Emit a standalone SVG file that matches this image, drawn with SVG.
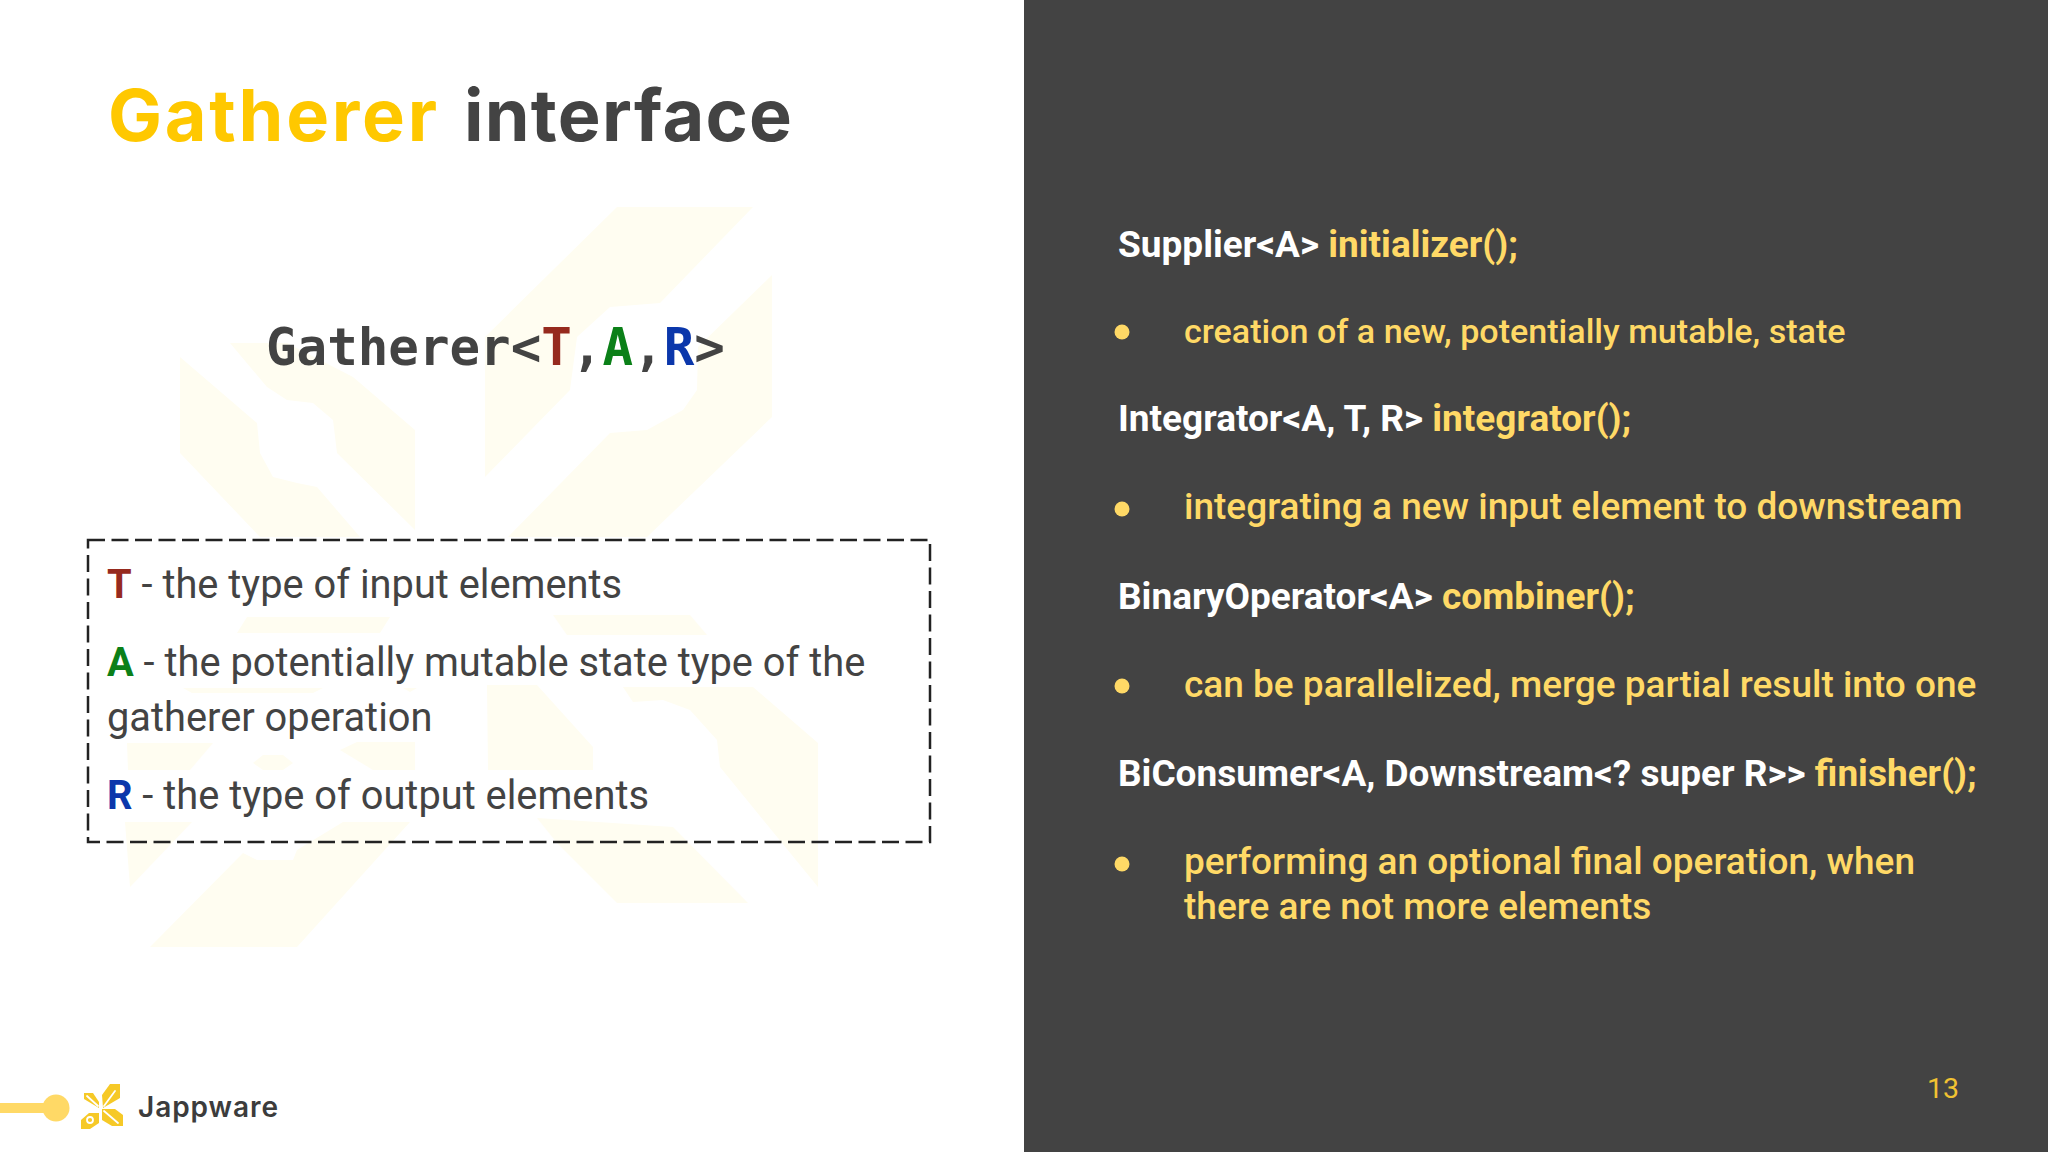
<svg xmlns="http://www.w3.org/2000/svg" width="2048" height="1152" viewBox="0 0 2048 1152">
<style>
.r{font-family:Roboto,"Liberation Sans",sans-serif}
.s{font-size:37px;font-weight:500;fill:#fff}
.h{font-weight:700}
.y{fill:#ffd966}
.l{font-size:39.8px;fill:#434343}
.b{font-weight:700}
.wm{fill:#fffdf1}
.pt{fill:#f6c927}
.cut{fill:none;stroke:#fff;stroke-width:1.8;stroke-linecap:round}
</style>
<rect width="2048" height="1152" fill="#fff"/>
<g id="watermark" class="wm">
<polygon points="230,343 287,343 353,377 415,430 415,530 337,453 333,420 313,403 287,400 267,387"/>
<polygon points="180,357 257,423 260,453 273,477 297,483 317,487 360,537 260,537 180,453"/>
<polygon points="617,207 753,207 660,303 610,307 577,337 570,390 485,477 485,337"/>
<polygon points="772,275 698,347 697,390 683,410 647,430 610,433 508,537 647,537 772,417"/>
<polygon points="237,633 247,617 390,617 380,633"/>
<polygon points="183,688 323,688 313,693 192,693"/>
<polygon points="403,688 417,688 410,692"/>
<polygon points="127,743 213,743 190,770 128,770"/>
<polygon points="253,763 263,755 283,755 293,763 283,770 263,770"/>
<polygon points="340,750 357,742 415,742 415,770 373,770"/>
<polygon points="487,685 537,685 593,747 593,770 488,770"/>
<polygon points="125,822 192,822 130,887"/>
<polygon points="343,822 410,822 297,947 150,947 243,853 257,860 293,860 297,850"/>
<polygon points="553,615 690,615 707,635 567,635"/>
<polygon points="623,687 753,687 818,743 818,887 720,767 717,740 690,710 663,700 633,702"/>
<polygon points="537,818 673,827 748,903 617,903 557,843"/>
</g>
<g id="title" font-family="Inter,sans-serif" font-weight="700" font-size="72"><text x="108" y="141" fill="#ffc800" textLength="329" lengthAdjust="spacing">Gatherer</text><text x="464" y="141" fill="#434343" textLength="328" lengthAdjust="spacing">interface</text></g>
<g id="signature"><text x="266" y="365" font-family="'DejaVu Sans Mono',monospace" font-weight="700" font-size="50.8" fill="#434343">Gatherer&lt;<tspan fill="#962a1e">T</tspan>,<tspan fill="#0b8018">A</tspan>,<tspan fill="#0b37ab">R</tspan>&gt;</text></g>
<g id="legend">
<rect x="88" y="540" width="842" height="302" fill="none" stroke="#222" stroke-width="2.5" stroke-dasharray="17 6.5"/>
<text class="r l" x="107" y="598"><tspan class="b" fill="#962a1e">T</tspan> - the type of input elements</text>
<text class="r l" x="107" y="676"><tspan class="b" fill="#0b8018">A</tspan> - the potentially mutable state type of the</text>
<text class="r l" x="107" y="731">gatherer operation</text>
<text class="r l" x="107" y="809"><tspan class="b" fill="#0b37ab">R</tspan> - the type of output elements</text>
</g>
<rect id="panel" x="1024" width="1024" height="1152" fill="#434343"/>
<g id="methods" class="r s">
<text class="h" x="1118" y="257">Supplier&lt;A&gt; <tspan class="y">initializer();</tspan></text>
<circle class="y" cx="1122" cy="332" r="7.5"/><text class="y" x="1184" y="343" font-size="34.1">creation of a new, potentially mutable, state</text>
<text class="h" x="1118" y="431">Integrator&lt;A, T, R&gt; <tspan class="y">integrator();</tspan></text>
<circle class="y" cx="1122" cy="509" r="7.5"/><text class="y" x="1184" y="519">integrating a new input element to downstream</text>
<text class="h" x="1118" y="609">BinaryOperator&lt;A&gt; <tspan class="y">combiner();</tspan></text>
<circle class="y" cx="1122" cy="686" r="7.5"/><text class="y" x="1184" y="697">can be parallelized, merge partial result into one</text>
<text class="h" x="1118" y="786">BiConsumer&lt;A, Downstream&lt;? super R&gt;&gt; <tspan class="y">finisher();</tspan></text>
<circle class="y" cx="1122" cy="864" r="7.5"/><text class="y" x="1184" y="874">performing an optional final operation, when</text>
<text class="y" x="1184" y="919">there are not more elements</text>
</g>
<text id="page" class="r" x="1927" y="1098" font-size="28.5" fill="#f1c232">13</text>
<g id="footer">
<rect x="0" y="1103" width="50" height="10" fill="#ffd966"/><circle cx="56" cy="1108" r="13.5" fill="#ffd966"/>
<g id="logo">
<polygon class="pt" points="110,1084 120,1084 120,1098 103,1108 102,1095"/>
<polygon class="pt" points="84,1093 93,1093 99,1102 99,1108 84,1099"/>
<polygon class="pt" points="99,1113 99,1123 90,1129 81,1129 81,1120 89,1113"/>
<polygon class="pt" points="102,1109 115,1109 123,1115 123,1126 112,1126 102,1120"/>
<path class="cut" d="M104 1106L115 1091M87 1096L98 1106M104 1111L118 1123"/>
<circle class="cut" cx="90" cy="1120" r="3"/>
</g>
<text x="138" y="1117" font-family="Inter,sans-serif" font-weight="600" font-size="28" fill="#3c3c3c" textLength="140" lengthAdjust="spacing">Jappware</text>
</g>
</svg>
